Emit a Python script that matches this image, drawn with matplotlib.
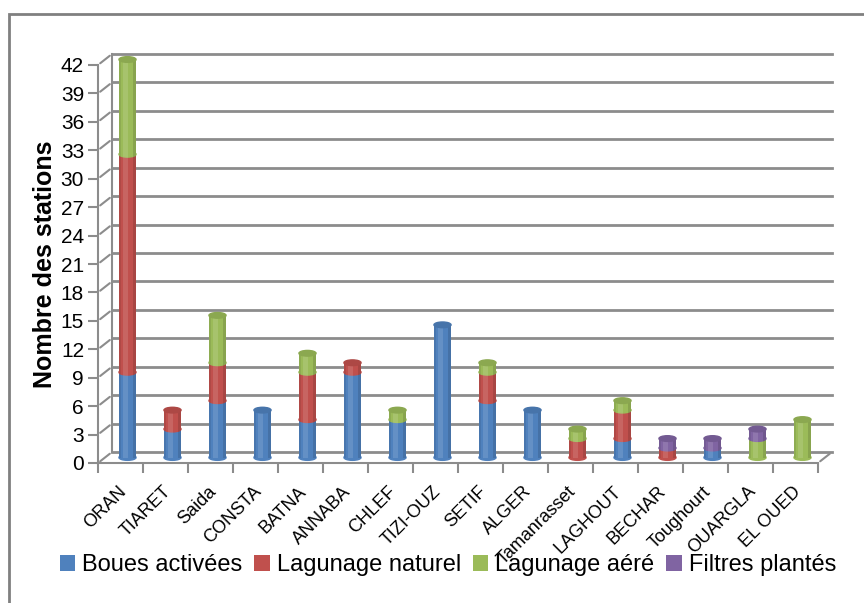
import numpy as np
import matplotlib
matplotlib.use("Agg")
import matplotlib.pyplot as plt
from matplotlib.patches import Ellipse, Rectangle
from matplotlib.transforms import offset_copy
import matplotlib.colors as mcolors

plt.rcParams['font.family'] = ['Liberation Sans', 'DejaVu Sans']

# data
villes = ['ORAN', 'TIARET', 'Saida', 'CONSTA', 'BATNA', 'ANNABA', 'CHLEF', 'TIZI-OUZ',
          'SETIF', 'ALGER', 'Tamanrasset', 'LAGHOUT', 'BECHAR', 'Toughourt', 'OUARGLA', 'EL OUED']
boues = [9, 3, 6, 5, 4, 9, 4, 14, 6, 5, 0, 2, 0, 1, 0, 0]
lag_naturel = [23, 2, 4, 0, 5, 1, 0, 0, 3, 0, 2, 3, 1, 0, 0, 0]
lag_aere = [10, 0, 5, 0, 2, 0, 1, 0, 1, 0, 1, 1, 0, 0, 2, 4]
filtres = [0, 0, 0, 0, 0, 0, 0, 0, 0, 0, 0, 0, 1, 1, 1, 0]

series = [('Boues activées', boues, '#4F81BD'),
          ('Lagunage naturel', lag_naturel, '#C0504D'),
          ('Lagunage aéré', lag_aere, '#9BBB59'),
          ('Filtres plantés', filtres, '#8064A2')]
yticks = list(range(0, 43, 3))

W, H = 864, 603
fig = plt.figure(figsize=(W / 100, H / 100), dpi=100)
ax = fig.add_axes([98 / W, (H - 463) / H, 720 / W, (463 - 65) / H])
ax.set_xlim(-0.5, len(villes) - 0.5)
ax.set_ylim(0, 42)

grey = '#8C8C8C'
dx, dy = 14, 11  # depth of the fake 3d box, in pixels
back = offset_copy(ax.transData, fig=fig, x=dx, y=dy, units='dots')
mid = offset_copy(ax.transData, fig=fig, x=dx / 2, y=dy / 2, units='dots')
lab = offset_copy(ax.transData, fig=fig, x=3, y=-26, units='dots')

x0, x1 = -0.5, len(villes) - 0.5
# back wall gridlines
for t in yticks:
    ax.plot([x0, x1], [t, t], color=grey, lw=2, transform=back, clip_on=False, zorder=1)
# left wall diagonals
for t in yticks:
    ax.annotate('', xy=(x0, t), xycoords=back, xytext=(x0, t), textcoords=ax.transData,
                arrowprops=dict(arrowstyle='-', color=grey, lw=1.5), annotation_clip=False)
ax.plot([x0, x0], [0, 42], color=grey, lw=1.5, transform=back, clip_on=False, zorder=1)
# floor right edge
ax.annotate('', xy=(x1, 0), xycoords=back, xytext=(x1, 0), textcoords=ax.transData,
            arrowprops=dict(arrowstyle='-', color=grey, lw=1.5), annotation_clip=False)

# stacked cylinders
bw = 0.38
eh = 0.6
x = np.arange(len(villes))
bottom = np.zeros(len(villes))
top_color = [None] * len(villes)
for k, (name, vals, col) in enumerate(series):
    vals = np.array(vals, dtype=float)
    ax.bar(x, vals, bottom=bottom, width=bw, color=col, transform=mid, zorder=3 + k * 2,
           label=name, clip_on=False)
    for i in range(len(villes)):
        if vals[i] > 0:
            ax.add_patch(Ellipse((x[i], bottom[i]), bw, eh, color=col, transform=mid,
                                 zorder=4 + k * 2, clip_on=False))
            top_color[i] = col
    bottom = bottom + vals

# a bit of shading so the bars look round
ax.bar(x - bw * 0.12, bottom, width=bw * 0.3, color='white', alpha=0.12, transform=mid,
       zorder=15, clip_on=False)
ax.bar(x + bw * 0.42, bottom, width=bw * 0.16, color='black', alpha=0.12, transform=mid,
       zorder=15, clip_on=False)
ax.bar(x - bw * 0.44, bottom, width=bw * 0.12, color='black', alpha=0.08, transform=mid,
       zorder=15, clip_on=False)

for i in range(len(villes)):
    if top_color[i] is not None:
        c = np.array(mcolors.to_rgb(top_color[i])) * 0.9
        ax.add_patch(Ellipse((x[i], bottom[i]), bw, eh, color=c, transform=mid,
                             zorder=20, clip_on=False))

# front axes
for s in ['top', 'right']:
    ax.spines[s].set_visible(False)
for s in ['left', 'bottom']:
    ax.spines[s].set_color(grey)
    ax.spines[s].set_linewidth(1.5)
ax.set_yticks(yticks)
ax.set_xticks(np.arange(-0.5, len(villes), 1.0))
ax.set_xticklabels([])
ax.tick_params(axis='both', color=grey, width=1.5, length=7, labelsize=15, pad=3)
ax.patch.set_alpha(0)

for i, v in enumerate(villes):
    ax.text(i, 0, v, rotation=45, ha='right', va='center', rotation_mode='anchor',
            fontsize=13, transform=lab, clip_on=False)

ax.set_ylabel('Nombre des stations', fontsize=18, fontweight='bold', labelpad=3)

fig.legend(loc='center', bbox_to_anchor=(448 / W, 1 - 565 / H), ncol=4, fontsize=17,
           frameon=False, handlelength=0.65, handleheight=0.65, handletextpad=0.3,
           columnspacing=0.5, borderpad=0)

# outer chart border
fig.patches.append(Rectangle((9 / W, -0.1), 1.2, 1 - 14 / H + 0.1, transform=fig.transFigure,
                             fill=False, edgecolor='#808080', lw=2))

fig.savefig('out.png', dpi=100)
